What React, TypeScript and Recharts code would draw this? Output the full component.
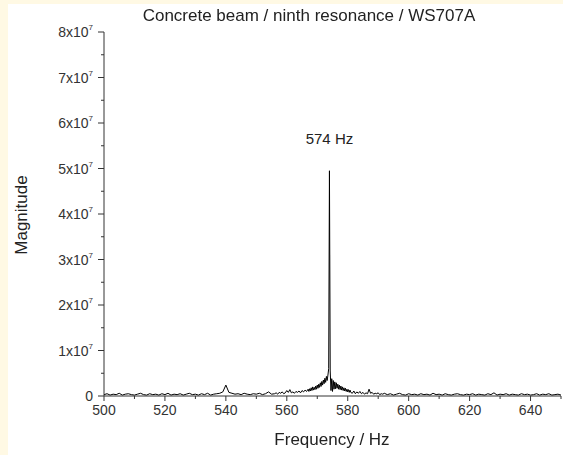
import { LineChart, Line, XAxis, YAxis, ReferenceDot } from "recharts"

// magnitudes in units of 1e6
const MAG_UNIT = 1e6

// 500 - 555 Hz, 1 Hz bins
const lowStart = 500
const lowStep = 1
const lowValues = [
  0.3, 0.5, 0.2, 0.4, 0.3, 0.6, 0.2, 0.4, 0.5, 0.3,
  0.2, 0.4, 0.6, 0.3, 0.2, 0.5, 0.3, 0.4, 0.2, 0.5,
  0.3, 0.6, 0.2, 0.4, 0.3, 0.5, 0.2, 0.4, 0.6, 0.3,
  0.4, 0.2, 0.5, 0.3, 0.6, 0.2, 0.4, 0.5, 0.6, 0.9,
  2.4, 0.8, 0.6, 0.4, 0.5, 0.3, 0.6, 0.4, 0.3, 0.5,
  0.4, 0.6, 0.3, 0.5, 0.9, 0.4,
]

// 556 - 567 Hz, 0.5 Hz bins
const riseStart = 556
const riseStep = 0.5
const riseValues = [
  0.5, 0.7, 0.4, 0.8, 0.6, 0.9, 0.5, 0.7, 1.2, 0.8, 1.4, 0.7,
  0.9, 0.6, 1.0, 0.8, 1.1, 0.7, 1.2, 0.9, 1.3, 1.0, 1.5,
]

// 567.25 - 581 Hz, 0.25 Hz bins (resonance)
const peakStart = 567.25
const peakStep = 0.25
const peakValues = [
  1.0, 1.6, 1.1,
  1.8, 1.2, 2.0, 1.3,
  1.9, 1.4, 2.2, 1.5,
  2.4, 1.7, 2.6, 1.9,
  2.9, 2.1, 3.2, 2.4,
  3.5, 2.7, 3.9, 3.0,
  4.3, 3.4, 4.6, 6.0,
  49.5, 5.5, 1.2, 3.8,
  1.0, 3.4, 1.5, 3.1,
  1.6, 2.9, 1.7, 2.6,
  1.5, 2.4, 1.4, 2.2,
  1.3, 2.0, 1.2, 1.8,
  1.1, 1.7, 1.0, 1.5,
  0.9, 1.4, 0.8, 1.3,
  0.8,
]

// 581.5 - 592 Hz, 0.5 Hz bins
const fallStart = 581.5
const fallStep = 0.5
const fallValues = [
  0.6, 1.1, 0.5, 0.9, 0.6, 1.0, 0.5, 0.8, 0.4, 0.7, 0.5,
  1.5, 0.6, 0.8, 0.4, 0.6, 0.5, 0.7, 0.3, 0.5, 0.4, 0.6,
]

// 593 - 650 Hz, 1 Hz bins
const highStart = 593
const highStep = 1
const highValues = [
  0.3, 0.5, 0.2, 0.4, 0.6, 0.3, 0.2, 0.5, 0.3, 0.4,
  0.2, 0.5, 0.3, 0.4, 0.2, 0.6, 0.3, 0.4, 0.2, 0.5,
  0.3, 0.2, 0.4, 0.5, 0.3, 0.2, 0.4, 0.3, 0.5, 0.2,
  0.4, 0.3, 0.2, 0.5, 0.3, 0.7, 0.2, 0.4, 0.3, 0.5,
  0.2, 0.4, 0.3, 0.2, 0.5, 0.3, 0.4, 0.2, 0.3, 0.5,
  0.2, 0.4, 0.3, 0.5, 0.2, 0.3, 0.4, 0.2,
]

const xTicks = [500, 510, 520, 530, 540, 550, 560, 570, 580, 590, 600, 610, 620, 630, 640, 650]
const yTicks = [0, 5e6, 1e7, 1.5e7, 2e7, 2.5e7, 3e7, 3.5e7, 4e7, 4.5e7, 5e7, 5.5e7, 6e7, 6.5e7, 7e7, 7.5e7, 8e7]

const peakFreq = 574
const peakLabel = "574 Hz"

const segments = [
  [lowStart, lowStep, lowValues],
  [riseStart, riseStep, riseValues],
  [peakStart, peakStep, peakValues],
  [fallStart, fallStep, fallValues],
  [highStart, highStep, highValues],
] as [number, number, number[]][]

const data = segments.flatMap(([start, step, values]) =>
  values.map((v, i) => ({ freq: start + i * step, mag: v * MAG_UNIT }))
)

const font = "Arial, 'Liberation Sans', sans-serif"
const axisColor = "#333"

function XTick(props: any) {
  const { x, y, payload } = props
  const major = payload.value % 20 === 0
  return (
    <g>
      <line x1={x} x2={x} y1={y} y2={y + (major ? 5 : 3)} stroke={axisColor} />
      {major && (
        <text x={x} y={y + 19} textAnchor="middle" fontSize={14} fill="#333" fontFamily={font}>
          {payload.value}
        </text>
      )}
    </g>
  )
}

function YTick(props: any) {
  const { x, y, payload } = props
  const major = payload.value % 1e7 === 0
  const n = payload.value / 1e7
  return (
    <g>
      <line x1={x - (major ? 6 : 3)} x2={x} y1={y} y2={y} stroke={axisColor} />
      {major && (
        <text x={x - 11} y={y + 5} textAnchor="end" fontSize={14} fill="#333" fontFamily={font}>
          {n === 0 ? (
            "0"
          ) : (
            <>
              <tspan>{n}x10</tspan>
              <tspan dy={-7} fontSize={8}>7</tspan>
            </>
          )}
        </text>
      )}
    </g>
  )
}

export default function App() {
  return (
    <div style={{ position: "fixed", left: 0, top: 0, width: 563, height: 455, background: "#FFF9E4", fontFamily: font }}>
      <div style={{ position: "absolute", left: 8, top: 4, right: 0, bottom: 0, background: "#fff" }} />
      <div style={{ position: "absolute", left: 0, top: 0 }}>
        <LineChart width={563} height={455} data={data} margin={{ top: 32, right: 2, bottom: 30, left: 0 }}>
          <XAxis
            dataKey="freq"
            type="number"
            domain={[500, 650]}
            ticks={xTicks}
            interval={0}
            height={29}
            tickSize={0}
            tickMargin={0}
            tickLine={false}
            tick={<XTick />}
            axisLine={{ stroke: axisColor }}
          />
          <YAxis
            type="number"
            domain={[0, 8e7]}
            ticks={yTicks}
            interval={0}
            width={104}
            tickSize={0}
            tickMargin={0}
            tickLine={false}
            tick={<YTick />}
            axisLine={{ stroke: axisColor }}
            allowDataOverflow
          />
          <Line
            type="linear"
            dataKey="mag"
            stroke="#000"
            strokeWidth={1}
            dot={false}
            activeDot={false}
            isAnimationActive={false}
          />
          <ReferenceDot
            x={peakFreq}
            y={5.65e7}
            r={0}
            fill="none"
            stroke="none"
            label={{ value: peakLabel, position: "center", fontSize: 15, fill: "#222", fontFamily: font }}
          />
        </LineChart>
      </div>
      <div style={{ position: "absolute", left: 0, width: 618, top: 6, textAlign: "center", fontSize: 17, color: "#222", whiteSpace: "nowrap" }}>
        Concrete beam / ninth resonance / WS707A
      </div>
      <div style={{ position: "absolute", left: 0, width: 664, top: 430, textAlign: "center", fontSize: 17, color: "#222" }}>
        Frequency / Hz
      </div>
      <div
        style={{
          position: "absolute",
          left: 22,
          top: 215,
          transform: "translate(-50%, -50%) rotate(-90deg)",
          fontSize: 17,
          color: "#222",
          whiteSpace: "nowrap",
        }}
      >
        Magnitude
      </div>
    </div>
  )
}
